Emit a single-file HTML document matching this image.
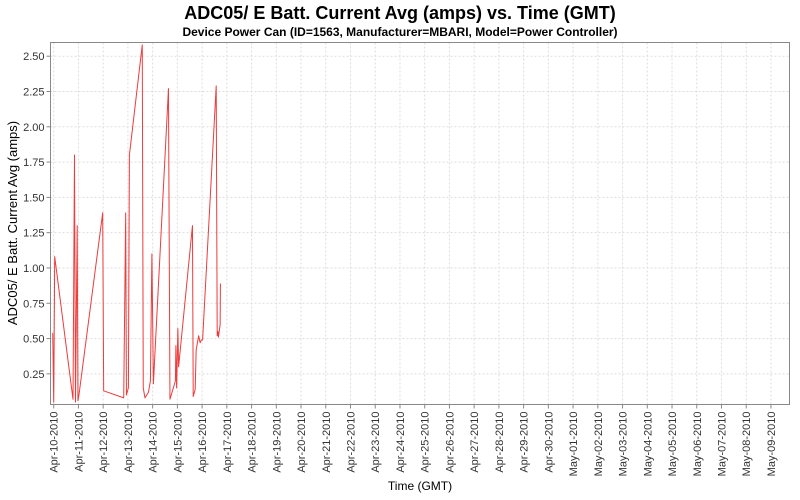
<!DOCTYPE html>
<html><head><meta charset="utf-8"><style>
html,body{margin:0;padding:0;background:#fff;}
svg{display:block;font-family:"Liberation Sans",sans-serif;}
</style></head><body>
<svg id="chart" width="800" height="500">
<text x="400" y="19" text-anchor="middle" font-size="18" font-weight="bold" fill="#000">ADC05/ E Batt. Current Avg (amps) vs. Time (GMT)</text>
<text x="400" y="36" text-anchor="middle" font-size="12" font-weight="bold" fill="#000">Device Power Can (ID=1563, Manufacturer=MBARI, Model=Power Controller)</text>
<rect x="50.5" y="42.5" width="739" height="362" fill="#fff" stroke="none"/>
<g id="grid"></g>
<g id="series"></g>
<rect x="50.5" y="42.5" width="739" height="362" fill="none" stroke="#888"/>
<g id="axes"></g>
<text transform="translate(17,223) rotate(-90)" text-anchor="middle" font-size="13" fill="#000">ADC05/ E Batt. Current Avg (amps)</text>
<text x="420" y="490" text-anchor="middle" font-size="12" fill="#000">Time (GMT)</text>
</svg>
<script>
const dayLabels = ["Apr-10-2010","Apr-11-2010","Apr-12-2010","Apr-13-2010","Apr-14-2010","Apr-15-2010","Apr-16-2010","Apr-17-2010","Apr-18-2010","Apr-19-2010","Apr-20-2010","Apr-21-2010","Apr-22-2010","Apr-23-2010","Apr-24-2010","Apr-25-2010","Apr-26-2010","Apr-27-2010","Apr-28-2010","Apr-29-2010","Apr-30-2010","May-01-2010","May-02-2010","May-03-2010","May-04-2010","May-05-2010","May-06-2010","May-07-2010","May-08-2010","May-09-2010"];
const yTicks = [0.25,0.5,0.75,1.0,1.25,1.5,1.75,2.0,2.25,2.5];
// time in days since Apr-10-2010 00:00 GMT
const times = [-0.04,0,0.04,0.78,0.84,0.88,0.95,0.98,1.02,1.98,2.02,2.83,2.91,2.94,3.00,3.02,3.06,3.58,3.62,3.69,3.83,3.91,3.97,4.03,4.64,4.70,4.92,4.94,4.97,5.02,5.05,5.61,5.64,5.72,5.76,5.86,5.92,5.97,6.02,6.57,6.61,6.64,6.66,6.73,6.74];
const values = [0.54,0.05,1.08,0.07,1.80,0.05,1.30,0.06,0.10,1.39,0.13,0.08,1.39,0.10,0.14,0.15,1.80,2.58,0.15,0.08,0.12,0.20,1.10,0.18,2.27,0.07,0.20,0.45,0.15,0.57,0.30,1.30,0.09,0.14,0.42,0.52,0.47,0.49,0.49,2.29,0.52,0.55,0.51,0.60,0.89];
const X0=50.5,X1=789.5,Y0=404.5,Y1=42.5;
const tMin=-0.13,tMax=29.75,vMin=0.033,vMax=2.597;
const xs=t=>X0+(t-tMin)/(tMax-tMin)*(X1-X0);
const ys=v=>Y0-(v-vMin)/(vMax-vMin)*(Y0-Y1);
const NS="http://www.w3.org/2000/svg";
const mk=(tag,attrs,parent)=>{const e=document.createElementNS(NS,tag);for(const k in attrs)e.setAttribute(k,attrs[k]);parent.appendChild(e);return e;};
const grid=document.getElementById('grid'),axes=document.getElementById('axes'),ser=document.getElementById('series');
dayLabels.forEach((lab,i)=>{
  const x=xs(i);
  const g=mk('line',{x1:x,x2:x,y1:Y1,y2:Y0,stroke:'#ddd','stroke-dasharray':'2,2'},grid);
  
  
  const t=mk('line',{x1:x,x2:x,y1:Y0,y2:Y0+4,stroke:'#888'},axes);
  
  
  const tx=mk('text',{transform:`translate(${x+4},${Y0+7}) rotate(-90)`,'text-anchor':'end','font-size':'11',fill:'#333'},axes);
  tx.textContent=lab;
  
  
});
yTicks.forEach(v=>{
  const y=ys(v);
  const g=mk('line',{x1:X0,x2:X1,y1:y,y2:y,stroke:'#ddd','stroke-dasharray':'2,2'},grid);
  
  
  const t=mk('line',{x1:X0-4,x2:X0,y1:y,y2:y,stroke:'#888'},axes);
  
  
  const tx=mk('text',{x:X0-6,y:y+4,'text-anchor':'end','font-size':'11',fill:'#333'},axes);
  tx.textContent=v.toFixed(2);
  
  
});
const d=times.map((t,i)=>(i?'L':'M')+xs(t).toFixed(2)+','+ys(values[i]).toFixed(2)).join(' ');
const p=mk('path',{d:d,fill:'none',stroke:'#ee3b3b','stroke-width':'1','stroke-linejoin':'round'},ser);


</script>
</body></html>
